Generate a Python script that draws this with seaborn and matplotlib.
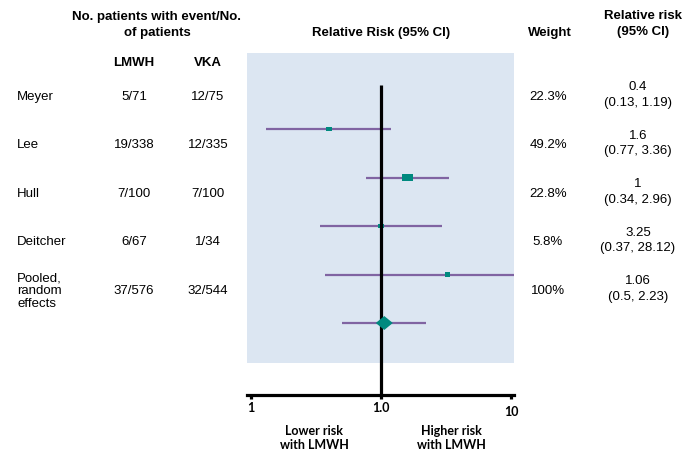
"""
Forest plot: LMWH vs VKA, relative risk of event (log scale)
"""

import matplotlib
matplotlib.use("Agg")
import matplotlib.pyplot as plt
import matplotlib.transforms as mtransforms
from matplotlib.path import Path
import pandas as pd
import seaborn as sns

studies = ["Meyer", "Lee", "Hull", "Deitcher", "Pooled,\nrandom\neffects"]
lmwh_events = ["5/71", "19/338", "7/100", "6/67", "37/576"]
vka_events = ["12/75", "12/335", "7/100", "1/34", "32/544"]
weights = ["22.3%", "49.2%", "22.8%", "5.8%", "100%"]
rr = [0.4, 1.6, 1.0, 3.25, 1.06]
ci_low = [0.13, 0.77, 0.34, 0.37, 0.5]
ci_high = [1.19, 3.36, 2.96, 28.12, 2.23]
tick_values = [0.1, 1, 10]
tick_labels = ["1", "1.0", "10"]

W, H = 684, 455
SHADE = "#DCE6F2"
PURPLE = "#8064A2"
TEAL = "#00897F"
ROW0, STEP = 129, 48.5  # pixel y of first CI line, row spacing


def fx(px):
    return px / W


def fy(py):
    return 1 - py / H


def row_of(py):
    return (py - ROW0) / STEP


sns.set_style("white")
plt.rcParams["font.family"] = ["Liberation Sans", "DejaVu Sans"]
plt.rcParams["text.color"] = "black"
plt.rcParams["xtick.color"] = "black"
plt.rcParams["xtick.labelcolor"] = "black"

df = pd.DataFrame({"row": range(len(studies)), "rr": rr, "lo": ci_low, "hi": ci_high})

fig = plt.figure(figsize=(W / 100, H / 100), dpi=100)
ax = fig.add_axes([fx(247), fy(395), (514 - 247) / W, (395 - 53) / H])
ax.set_xscale("log")
ax.set_xlim(10 ** ((247 - 381) / 130), 10 ** ((514 - 381) / 130))
ax.set_ylim(row_of(395), row_of(53))

ax.axhspan(row_of(53), row_of(363), color=SHADE, lw=0, zorder=0)
ax.hlines(df["row"], df["lo"], df["hi"], color=PURPLE, lw=1.6, zorder=2)
ax.vlines(1, row_of(85), row_of(395), color="black", lw=2.3, zorder=3)

rect = Path([(-1, -0.72), (1, -0.72), (1, 0.72), (-1, 0.72), (-1, -0.72)])
diamond = Path([(-1, 0), (0, 0.82), (1, 0), (0, -0.82), (-1, 0)])
square_sizes = [18, 63, 18, 18]
sns.scatterplot(data=df.iloc[:4], x="rr", y="row", marker=rect, s=square_sizes,
                color=TEAL, edgecolor="none", linewidth=0, zorder=2.5, ax=ax, legend=False)
sns.scatterplot(data=df.iloc[4:], x="rr", y="row", marker=diamond, s=150,
                color=TEAL, edgecolor="none", linewidth=0, zorder=4, ax=ax, legend=False)

for side in ["top", "right", "left"]:
    ax.spines[side].set_visible(False)
ax.spines["bottom"].set_linewidth(2.3)
ax.spines["bottom"].set_color("black")
ax.set_xticks(tick_values, tick_labels)
ax.minorticks_off()
ax.set_yticks([])
ax.set_xlabel("")
ax.set_ylabel("")
ax.tick_params(axis="x", bottom=True, length=3, width=2.3, direction="out", pad=2,
               labelsize=9, color="black")
for lab in ax.get_xticklabels():
    lab.set_fontweight("bold")
    lab.set_fontfamily(["Lato", "DejaVu Sans"])
ax.get_xticklabels()[-1].set_transform(
    ax.get_xticklabels()[-1].get_transform()
    + mtransforms.ScaledTranslation(0, -4 / 100, fig.dpi_scale_trans))

# headers
hdr = dict(fontsize=9.5, fontweight="bold", ha="center", va="center")
fig.text(fx(157), fy(25), "No. patients with event/No.\nof patients", linespacing=1.4, **hdr)
fig.text(fx(381), fy(33), "Relative Risk (95% CI)", **hdr)
fig.text(fx(550), fy(33), "Weight", **hdr)
fig.text(fx(643), fy(24), "Relative risk\n(95% CI)", linespacing=1.45, **hdr)
fig.text(fx(134), fy(63), "LMWH", **hdr)
fig.text(fx(208), fy(63), "VKA", **hdr)

# table rows
trans = mtransforms.blended_transform_factory(fig.transFigure, ax.transData)
body = dict(fontsize=9.5, va="center", transform=trans)
for i in range(len(studies)):
    y = i - 0.66
    fig.text(fx(17), y, studies[i], ha="left", linespacing=1.1, **body)
    fig.text(fx(134), y, lmwh_events[i], ha="center", **body)
    fig.text(fx(208), y, vka_events[i], ha="center", **body)
    fig.text(fx(548), y, weights[i], ha="center", **body)
    fig.text(fx(638), y - 0.04, f"{rr[i]:g}\n({ci_low[i]:g}, {ci_high[i]:g})",
             ha="center", multialignment="center", linespacing=1.4, **body)

foot = dict(fontsize=9, fontweight="bold", ha="center", va="center",
            linespacing=1.25, family=["Lato", "DejaVu Sans"])
fig.text(fx(314), fy(438), "Lower risk\nwith LMWH", **foot)
fig.text(fx(451), fy(438), "Higher risk\nwith LMWH", **foot)

fig.savefig("out.png", dpi=100)
